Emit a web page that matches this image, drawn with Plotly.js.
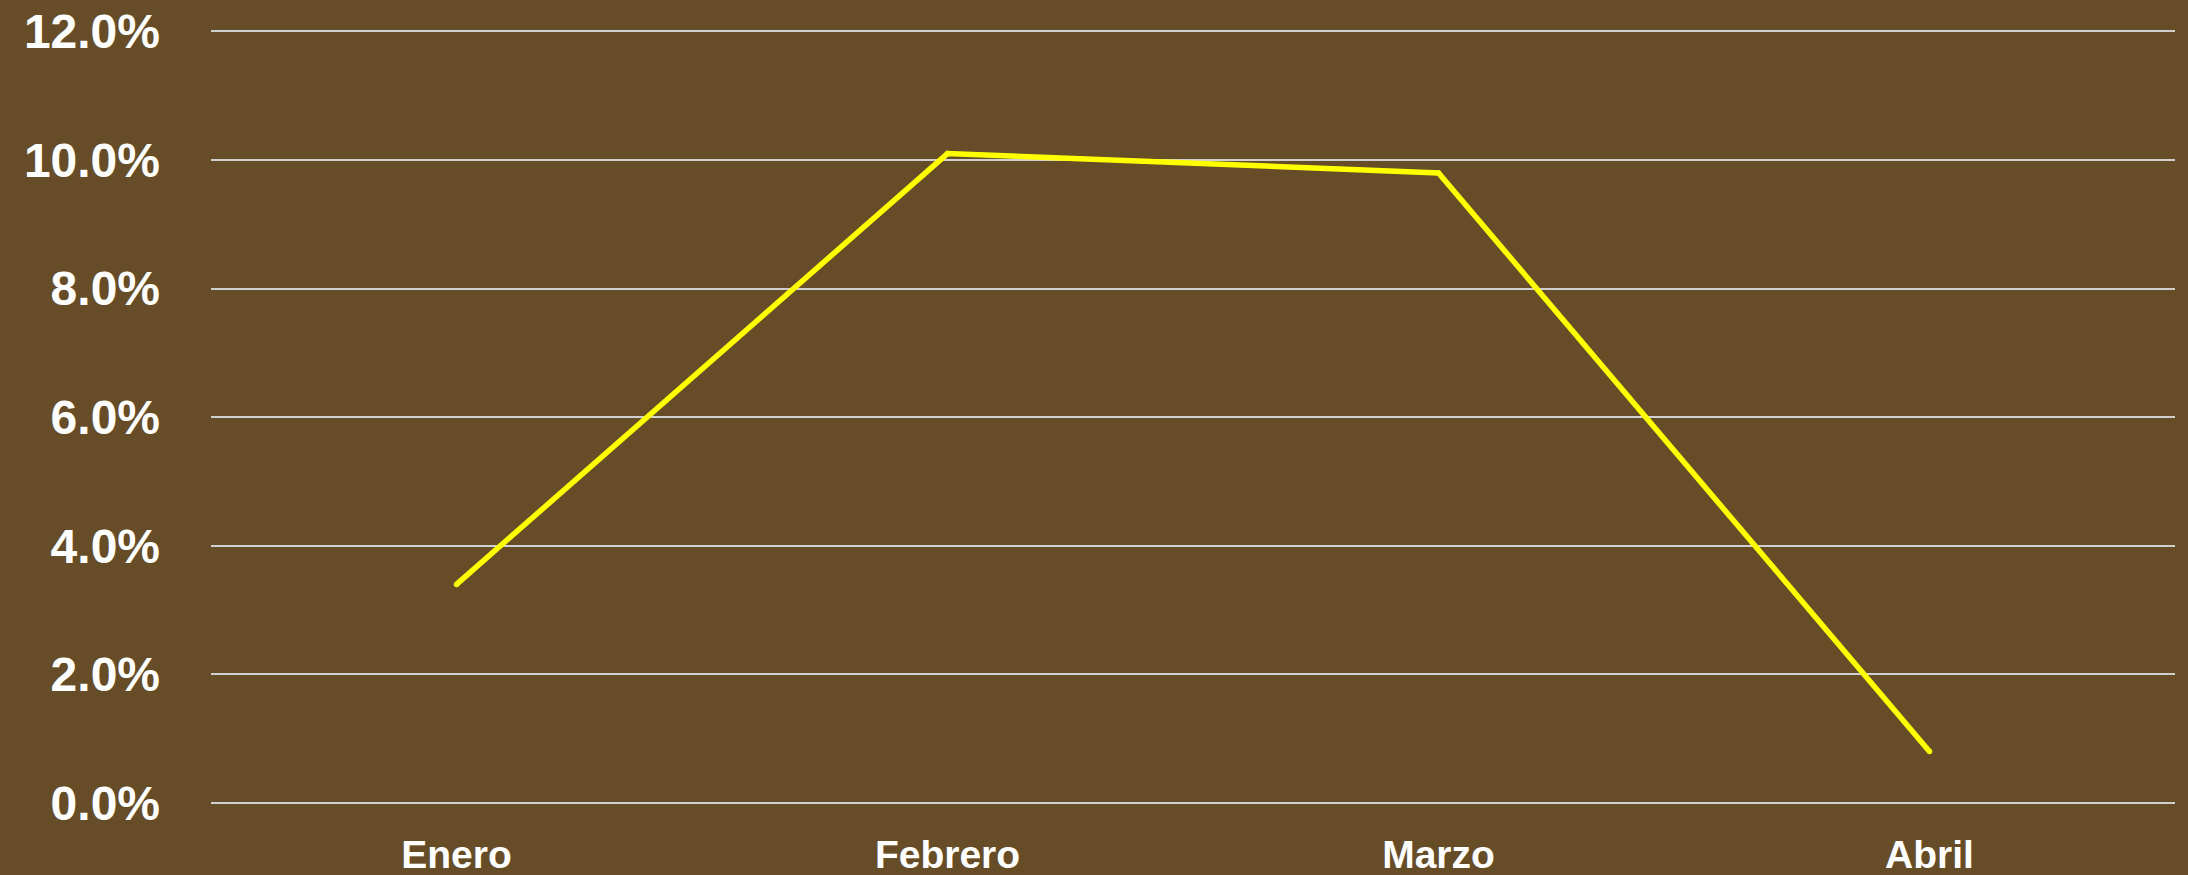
<!DOCTYPE html>
<html>
<head>
<meta charset="utf-8">
<script src="https://cdn.plot.ly/plotly-3.0.1.min.js"></script>
<style>
html,body{margin:0;padding:0;background:#664d27;}
#chart{width:2188px;height:875px;}
</style>
</head>
<body>
<div id="chart"></div>
<script>
const months = ["Enero", "Febrero", "Marzo", "Abril"];
const rates = [3.4, 10.1, 9.8, 0.8];
const yTicks = [0, 2, 4, 6, 8, 10, 12];

const trace = {
  x: months,
  y: rates,
  type: "scatter",
  mode: "lines+markers",
  line: {color: "#ffff00", width: 5.5},
  marker: {color: "#ffff00", size: 5.5},
  hoverinfo: "skip",
  showlegend: false
};

const layout = {
  width: 2188,
  height: 875,
  paper_bgcolor: "#664d27",
  plot_bgcolor: "#664d27",
  margin: {l: 211, r: 13, t: 25, b: 72, pad: 0},
  xaxis: {
    type: "category",
    range: [-0.5, 3.5],
    showgrid: false,
    zeroline: false,
    showline: false,
    ticks: "",
    tickfont: {family: "Liberation Sans, Arial, sans-serif", size: 39, color: "#ffffff", weight: "bold"},
    ticklabelstandoff: 25
  },
  yaxis: {
    range: [0, 12.1],
    tickvals: yTicks,
    ticktext: yTicks.map(v => v.toFixed(1) + "%"),
    showgrid: true,
    gridcolor: "#cfcfcf",
    gridwidth: 2,
    zeroline: true,
    zerolinecolor: "#cfcfcf",
    zerolinewidth: 2,
    showline: false,
    ticks: "",
    tickfont: {family: "Liberation Sans, Arial, sans-serif", size: 48, color: "#ffffff", weight: "bold"},
    ticklabelstandoff: 50
  }
};

Plotly.newPlot("chart", [trace], layout, {displayModeBar: false, staticPlot: true});
</script>
</body>
</html>
